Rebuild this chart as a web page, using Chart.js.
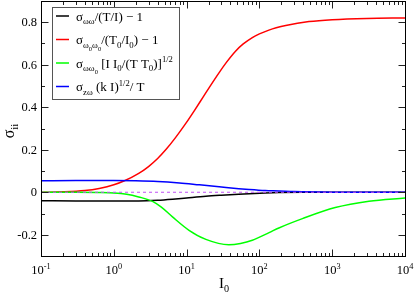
<!DOCTYPE html>
<html><head><meta charset="utf-8">
<script src="https://cdn.jsdelivr.net/npm/chart.js@4/dist/chart.umd.min.js"></script>
<style>html,body{margin:0;padding:0;background:#fff;overflow:hidden}canvas{display:block}</style>
</head><body>
<canvas id="c" width="415" height="295"></canvas>
<script>
// ---- data ----
const xTickExponents = [-1, 0, 1, 2, 3, 4];
const yTickValues = [-0.2, 0, 0.2, 0.4, 0.6, 0.8];
const yTickLabels = ['-0.2', '0', '0.2', '0.4', '0.6', '0.8'];

const I_black = [0.1, 0.3, 1, 2.2, 4, 6.4, 10, 18.4, 30, 52, 120, 185, 400, 1000, 10000];
const sigma_black = [-0.040, -0.041, -0.041, -0.041, -0.038, -0.033, -0.027, -0.019, -0.014, -0.009, -0.003, -0.001, 0, 0, 0];

const I_red = [0.1, 0.2, 0.4, 0.63, 1.0, 1.4, 2.2, 3.0, 4.0, 5.2, 7.0, 9.75, 12.6, 16.5, 21.4, 28, 35, 47, 60, 80, 100, 135, 170, 230, 480, 1000, 3000, 10000];
const sigma_red = [0.0, 0.002, 0.008, 0.018, 0.035, 0.054, 0.089, 0.121, 0.159, 0.201, 0.256, 0.324, 0.381, 0.443, 0.503, 0.563, 0.610, 0.664, 0.698, 0.728, 0.745, 0.763, 0.774, 0.785, 0.803, 0.812, 0.818, 0.82];

const I_green = [0.1, 0.3, 0.6, 1.0, 1.5, 2.2, 3.4, 4.5, 6.4, 10.8, 18.4, 38, 55, 80, 136, 185, 390, 1100, 3200, 10000];
const sigma_green = [0.0, 0.0, -0.001, -0.003, -0.009, -0.022, -0.043, -0.07, -0.116, -0.179, -0.222, -0.247, -0.241, -0.226, -0.19, -0.168, -0.124, -0.072, -0.042, -0.027];

const I_blue = [0.1, 0.3, 1, 2, 4, 8, 15, 28, 52, 72, 120, 185, 300, 1000, 10000];
const sigma_blue = [0.054, 0.055, 0.055, 0.054, 0.051, 0.044, 0.035, 0.026, 0.017, 0.013, 0.008, 0.006, 0.003, 0.0005, 0];

const I_zero = [0.1, 10000];
const sigma_zero = [0, 0];

const legendLabels = [
  [['σ','n'],['ωω','sub'],['/(T/I) − 1','n']],
  [['σ','n'],['ω','sub'],['0','ss'],['ω','sub'],['0','ss'],['/(T','n'],['0','sub'],['/I','n'],['0','sub'],[') − 1','n']],
  [['σ','n'],['ωω','sub'],['0','ss'],[' [I I','n'],['0','sub'],['/(T T','n'],['0','sub'],[')]','n'],['1/2','sup']],
  [['σ','n'],['zω','sub'],[' (k I)','n'],['1/2','sup'],['/ T','n']]
];
const xTitle = [['I','n'],['0','sub']];
const yTitle = [['σ','n'],['ii','sub']];

// ---- chart ----
const pts = (xs, ys) => xs.map((x, i) => ({x: x, y: ys[i]}));
const FONT = '"Liberation Serif", "Times New Roman", serif';

function segSize(k, base) { return k === 'sub' ? base * 0.68 : k === 'ss' ? base * 0.5 : k === 'sup' ? base * 0.66 : base; }
function segDy(k, base) { return k === 'sub' ? base * 0.28 : k === 'ss' ? base * 0.5 : k === 'sup' ? -base * 0.42 : 0; }
function richWidth(ctx, segs, base) {
  let w = 0;
  for (const [t, k] of segs) { ctx.font = segSize(k, base) + 'px ' + FONT; w += ctx.measureText(t).width; }
  return w;
}
function drawRich(ctx, segs, x, y, base) {
  ctx.textBaseline = 'alphabetic'; ctx.textAlign = 'left';
  for (const [t, k] of segs) {
    ctx.font = segSize(k, base) + 'px ' + FONT;
    ctx.fillText(t, x, y + segDy(k, base));
    x += ctx.measureText(t).width;
  }
  return x;
}

const decor = {
  id: 'decor',
  afterDatasetsDraw(chart) {
    const ctx = chart.ctx, a = chart.chartArea, xs = chart.scales.x, ys = chart.scales.y;
    ctx.save();
    // ticks
    ctx.strokeStyle = '#222'; ctx.lineWidth = 1;
    const L = Math.round(a.left) + 0.5, R = Math.round(a.right) + 0.5, T = Math.round(a.top) + 0.5, B = Math.round(a.bottom) + 0.5;
    ctx.beginPath();
    for (let e = -1; e <= 4; e++) {
      for (let m = 1; m <= 9; m++) {
        const v = m * Math.pow(10, e);
        if (v > 10000 * 1.0001) break;
        const px = Math.round(xs.getPixelForValue(v)) + 0.5;
        const len = m === 1 ? 7 : 3.5;
        ctx.moveTo(px, B); ctx.lineTo(px, B - len);
        ctx.moveTo(px, T); ctx.lineTo(px, T + len);
      }
    }
    for (let k = -3; k <= 9; k++) {
      const v = k / 10;
      const py = Math.round(ys.getPixelForValue(v)) + 0.5;
      const len = (k % 2 === 0) ? 7 : 3.5;
      ctx.moveTo(L, py); ctx.lineTo(L + len, py);
      ctx.moveTo(R, py); ctx.lineTo(R - len, py);
    }
    ctx.stroke();
    // frame
    ctx.strokeStyle = '#000';
    ctx.strokeRect(L, T, R - L, B - T);
    // x tick labels
    ctx.fillStyle = '#000';
    for (const e of xTickExponents) {
      const segs = [['10','n'],[String(e),'sup']];
      const w = richWidth(ctx, segs, 12.5);
      const px = xs.getPixelForValue(Math.pow(10, e));
      drawRich(ctx, segs, px - w / 2, 274, 12.5);
    }
    // y tick labels
    ctx.font = '12.5px ' + FONT; ctx.textAlign = 'right'; ctx.textBaseline = 'middle';
    yTickValues.forEach((v, i) => ctx.fillText(yTickLabels[i], 37, ys.getPixelForValue(v) + 0.5));
    // axis titles
    const xw = richWidth(ctx, xTitle, 15);
    drawRich(ctx, xTitle, (a.left + a.right) / 2 - xw / 2 + 1, 288, 15);
    ctx.save();
    ctx.translate(14, 131); ctx.rotate(-Math.PI / 2);
    const yw = richWidth(ctx, yTitle, 16);
    drawRich(ctx, yTitle, -yw / 2, 0, 16);
    ctx.restore();
    // legend
    ctx.fillStyle = '#fff'; ctx.strokeStyle = '#555'; ctx.lineWidth = 1;
    ctx.fillRect(52.5, 7.5, 127, 92); ctx.strokeRect(52.5, 7.5, 127, 92);
    const lineYs = [16, 39.5, 63, 86.5];
    const colors = ['#000000', '#ff0000', '#00ff00', '#0000ff'];
    legendLabels.forEach((segs, i) => {
      ctx.strokeStyle = colors[i]; ctx.lineWidth = 1.5;
      ctx.beginPath(); ctx.moveTo(56, lineYs[i]); ctx.lineTo(69, lineYs[i]); ctx.stroke();
      ctx.fillStyle = '#000';
      drawRich(ctx, segs, 76, lineYs[i] + 4.5, 13);
    });
    ctx.restore();
  }
};

const common = {pointRadius: 0, borderWidth: 1.5, fill: false, cubicInterpolationMode: 'monotone'};
new Chart(document.getElementById('c'), {
  type: 'line',
  data: {
    datasets: [
      Object.assign({label: 'zero', data: pts(I_zero, sigma_zero), borderColor: '#c050f5', borderDash: [3, 3], order: 0}, common, {borderWidth: 1.2}),
      Object.assign({label: 'blue', data: pts(I_blue, sigma_blue), borderColor: '#0000ff', order: 1}, common),
      Object.assign({label: 'green', data: pts(I_green, sigma_green), borderColor: '#00ff00', order: 2}, common),
      Object.assign({label: 'red', data: pts(I_red, sigma_red), borderColor: '#ff0000', order: 3}, common),
      Object.assign({label: 'black', data: pts(I_black, sigma_black), borderColor: '#000000', order: 4}, common)
    ]
  },
  options: {
    responsive: false, animation: false, devicePixelRatio: 1,
    layout: {padding: {left: 41, top: 1, right: 10, bottom: 39}},
    plugins: {legend: {display: false}, tooltip: {enabled: false}},
    scales: {
      x: {type: 'logarithmic', min: 0.1, max: 10000, display: false},
      y: {type: 'linear', min: -0.3, max: 0.9, display: false}
    }
  },
  plugins: [decor]
});
</script>
</body></html>
